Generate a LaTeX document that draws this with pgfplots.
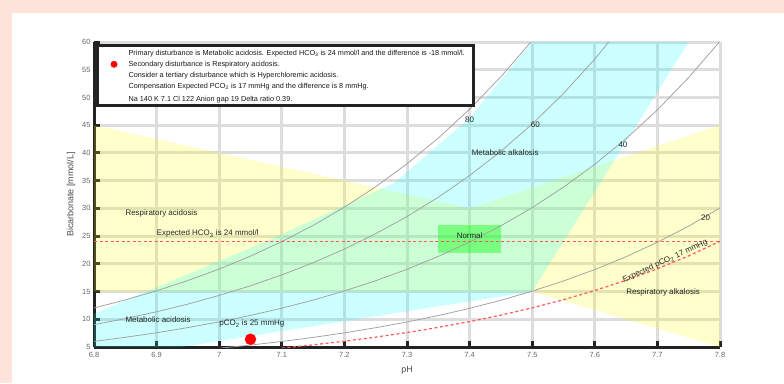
\documentclass[border=0pt]{standalone}
\usepackage{fontspec}
\setmainfont{Liberation Sans}
\usepackage{pgfplots}
\pgfplotsset{compat=1.18}
\definecolor{peach}{RGB}{253,227,217}
\definecolor{gridgray}{RGB}{221,221,221}
\definecolor{axblack}{RGB}{35,35,35}
\definecolor{dashred}{RGB}{255,90,90}
\definecolor{isogray}{RGB}{160,160,160}
\definecolor{ryellow}{RGB}{255,255,0}
\definecolor{rcyan}{RGB}{0,255,255}
\definecolor{rgreen}{RGB}{0,255,0}
\definecolor{dotred}{RGB}{255,0,0}
\begin{document}
\begin{tikzpicture}[x=1bp,y=1bp]
\fill[peach] (0,0) rectangle (784,383);
\fill[white] (12,0) rectangle (784,370);
\begin{axis}[
  at={(94bp,36bp)}, anchor=south west,
  width=626bp, height=305bp, scale only axis,
  xmin=6.8, xmax=7.8, ymin=5, ymax=60,
  xtick={6.8,6.9,7,7.1,7.2,7.3,7.4,7.5,7.6,7.7,7.8},
  xticklabels={6.8,6.9,7,7.1,7.2,7.3,7.4,7.5,7.6,7.7,7.8},
  ytick={5,10,15,20,25,30,35,40,45,50,55,60},
  grid=major, major grid style={gridgray, line width=3bp},
  axis x line*=bottom, axis y line*=left,
  axis line style={line width=3bp, axblack},
  tick align=inside, major tick length=6bp,
  tick style={line width=3bp, axblack},
  tick label style={font=\fontsize{7.5}{8}\selectfont, text=black!60},
  xticklabel style={yshift=-2bp},
  /pgf/number format/assume math mode=true,
  xlabel={pH}, ylabel={Bicarbonate [mmol/L]},
  label style={font=\fontsize{9}{10}\selectfont, text=black!70},
  xlabel style={yshift=-2bp},
  clip=true,
]
% respiratory regions (yellow)
\addplot[draw=none, fill=ryellow, fill opacity=0.2]
  coordinates {(6.8,15)(6.8,45)(7.4,30)(7.8,45)(7.8,5)(7.5,15)} -- cycle;
% metabolic regions (cyan)
\addplot[draw=none, fill=rcyan, fill opacity=0.2]
  coordinates {(6.8,5)(6.8,11)(7.08,24.3)(7.28,34.6)(7.40,46.3)(7.5,60)(7.75,60)(7.5,15)(6.94,5)} -- cycle;
% normal box
\addplot[draw=none, fill=rgreen, fill opacity=0.4]
  coordinates {(7.35,22)(7.35,27)(7.45,27)(7.45,22)} -- cycle;
% pCO2 isopleths
\addplot[isogray, line width=0.75bp] coordinates {
(7.00,4.77)(7.05,5.35)(7.10,6.00)(7.15,6.73)(7.20,7.55)(7.25,8.48)(7.30,9.51)(7.35,10.67)(7.40,11.97)(7.45,13.43)(7.50,15.07)(7.55,16.91)(7.60,18.97)(7.65,21.29)(7.70,23.89)(7.75,26.80)(7.80,30.07)};
\addplot[isogray, line width=0.75bp] coordinates {
(6.80,6.01)(6.85,6.75)(6.90,7.57)(6.95,8.50)(7.00,9.53)(7.05,10.70)(7.10,12.00)(7.15,13.46)(7.20,15.11)(7.25,16.95)(7.30,19.02)(7.35,21.34)(7.40,23.94)(7.45,26.86)(7.50,30.14)(7.55,33.82)(7.60,37.95)(7.65,42.58)(7.70,47.77)(7.75,53.60)(7.80,60.14)};
\addplot[isogray, line width=0.75bp] coordinates {
(6.80,9.02)(6.85,10.12)(6.90,11.36)(6.95,12.74)(7.00,14.30)(7.05,16.04)(7.10,18.00)(7.15,20.20)(7.20,22.66)(7.25,25.43)(7.30,28.53)(7.35,32.01)(7.40,35.92)(7.45,40.30)(7.50,45.21)(7.55,50.73)(7.60,56.92)(7.65,63.87)};
\addplot[isogray, line width=0.75bp] coordinates {
(6.80,12.03)(6.85,13.50)(6.90,15.14)(6.95,16.99)(7.00,19.06)(7.05,21.39)(7.10,24.00)(7.15,26.93)(7.20,30.21)(7.25,33.90)(7.30,38.04)(7.35,42.68)(7.40,47.89)(7.45,53.73)(7.50,60.29)};
% expected lines
\addplot[draw=dashred, line width=1.2bp, dash pattern=on 3bp off 2.5bp] coordinates {
(7.10,4.80)(7.15,5.39)(7.20,6.04)(7.25,6.78)(7.30,7.61)(7.35,8.54)(7.40,9.58)(7.45,10.75)(7.50,12.06)(7.55,13.53)(7.60,15.18)(7.65,17.03)(7.70,19.11)(7.75,21.44)(7.80,24.06)};
\addplot[draw=dashred, line width=1.5bp, dash pattern=on 3bp off 2.5bp] coordinates {(6.8,24)(7.05,24)(7.3,24)(7.55,24)(7.8,24)};
% patient point
\addplot[only marks, mark=*, mark size=5.5bp, color=dotred] coordinates {(7.05,6.4)};
% labels
\begin{scope}[every node/.style={font=\fontsize{8}{9}\selectfont, text=black!85, inner sep=0pt}]
\node[anchor=west] at (6.85,29.0) {Respiratory acidosis};
\node[anchor=west] at (6.90,25.4) {Expected HCO\textsubscript{3} is 24 mmol/l};
\node[anchor=west] at (6.85,10.0) {Metabolic acidosis};
\node[anchor=west] at (7.00,9.2) {pCO\textsubscript{2} is 25 mmHg};
\node at (7.457,40.0) {Metabolic alkalosis};
\node at (7.709,14.9) {Respiratory alkalosis};
\node at (7.40,25.0) {Normal};
\node[rotate=25, anchor=south] at (7.715,19.8) {Expected pCO\textsubscript{2} 17 mmHg};
\node at (7.40,46.0) {80};
\node at (7.505,45.0) {60};
\node at (7.645,41.4) {40};
\node at (7.777,28.3) {20};
\end{scope}
% info box
\draw[line width=3bp, axblack, fill=white] (6.806,48.6) rectangle (7.407,59.3);
\addplot[only marks, mark=*, mark size=3.2bp, color=dotred] coordinates {(6.832,55.98)};
\begin{scope}[every node/.style={font=\fontsize{7.3}{8}\selectfont, text=black!90, inner sep=0pt, anchor=west}]
\node at (6.855,57.96) {Primary disturbance is Metabolic acidosis. Expected HCO\textsubscript{3} is 24 mmol/l and the difference is -18 mmol/l.};
\node at (6.855,55.98) {Secondary disturbance is Respiratory acidosis.};
\node at (6.855,53.92) {Consider a tertiary disturbance which is Hyperchloremic acidosis.};
\node at (6.855,51.93) {Compensation Expected PCO\textsubscript{2} is 17 mmHg and the difference is 8 mmHg.};
\node at (6.855,49.7) {Na 140  K 7.1 Cl 122  Anion gap 19 Delta ratio 0.39.};
\end{scope}
\end{axis}
\end{tikzpicture}
\end{document}
